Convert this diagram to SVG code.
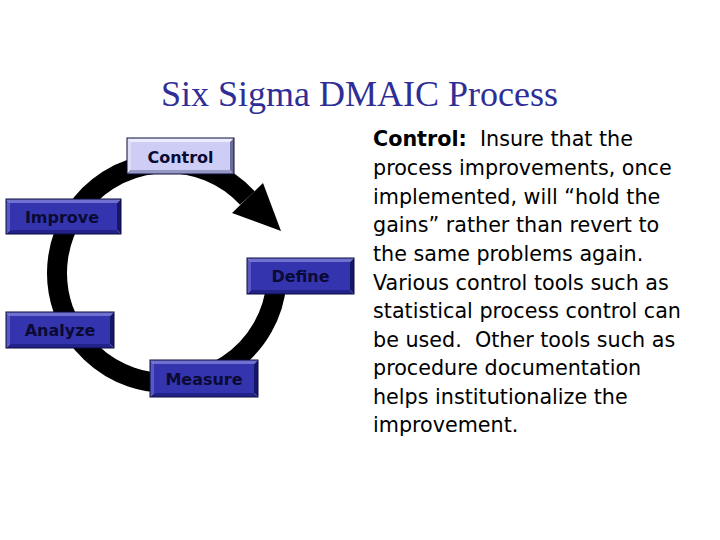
<svg xmlns="http://www.w3.org/2000/svg" width="720" height="540" viewBox="0 0 720 540">
<style>
.ring{fill:none;stroke:#000;stroke-width:20}
.head{fill:#000}
.edge{fill:none;stroke:#0a0a3a;stroke-width:1}
.d .face{fill:#3434ae}.d .bt{fill:#7070d2}.d .bl{fill:#5858c4}.d .bb{fill:#22228a}.d .br{fill:#16166a}
.l .face{fill:#cdcdf6}.l .bt{fill:#ececff}.l .bl{fill:#dedefb}.l .bb{fill:#9797c6}.l .br{fill:#6c6c9c}
.lbl{font-family:"DejaVu Sans",Verdana,sans-serif;font-weight:bold;font-size:16px;fill:#0a0a33;text-anchor:middle}
.title{font-family:"Liberation Serif","Times New Roman",serif;font-size:36px;fill:#2e2e96;text-anchor:middle}
.body{font-family:"DejaVu Sans",Verdana,sans-serif;font-size:20.7px;fill:#000;white-space:pre}
</style>
<text class="title" x="359.5" y="106">Six Sigma DMAIC Process</text>
<g id="connectors">
<path class="ring" d="M 276.6 282.6 A 110 110 0 1 1 247.4 198"/>
<polygon class="head" points="232,213 263,183 281,231"/>
</g>
<g id="control" class="l">
<polygon class="bt" points="127,138 234,138 230,142 131,142"/>
<polygon class="bl" points="127,138 131,142 131,170 127,174"/>
<polygon class="bb" points="127,174 131,170 230,170 234,174"/>
<polygon class="br" points="234,138 234,174 230,170 230,142"/>
<rect class="face" x="131" y="142" width="99" height="28"/>
<rect class="edge" x="127" y="138" width="107" height="36"/>
<text class="lbl" x="180.5" y="162.5">Control</text>
</g>
<g id="improve" class="d">
<polygon class="bt" points="6,199 121,199 117,203 10,203"/>
<polygon class="bl" points="6,199 10,203 10,230 6,234"/>
<polygon class="bb" points="6,234 10,230 117,230 121,234"/>
<polygon class="br" points="121,199 121,234 117,230 117,203"/>
<rect class="face" x="10" y="203" width="107" height="27"/>
<rect class="edge" x="6" y="199" width="115" height="35"/>
<text class="lbl" x="62" y="222.5">Improve</text>
</g>
<g id="define" class="d">
<polygon class="bt" points="247,258 354,258 350,262 251,262"/>
<polygon class="bl" points="247,258 251,262 251,290 247,294"/>
<polygon class="bb" points="247,294 251,290 350,290 354,294"/>
<polygon class="br" points="354,258 354,294 350,290 350,262"/>
<rect class="face" x="251" y="262" width="99" height="28"/>
<rect class="edge" x="247" y="258" width="107" height="36"/>
<text class="lbl" x="300.5" y="282">Define</text>
</g>
<g id="analyze" class="d">
<polygon class="bt" points="6,312 114,312 110,316 10,316"/>
<polygon class="bl" points="6,312 10,316 10,344 6,348"/>
<polygon class="bb" points="6,348 10,344 110,344 114,348"/>
<polygon class="br" points="114,312 114,348 110,344 110,316"/>
<rect class="face" x="10" y="316" width="100" height="28"/>
<rect class="edge" x="6" y="312" width="108" height="36"/>
<text class="lbl" x="60" y="336">Analyze</text>
</g>
<g id="measure" class="d">
<polygon class="bt" points="150,360 258,360 254,364 154,364"/>
<polygon class="bl" points="150,360 154,364 154,393 150,397"/>
<polygon class="bb" points="150,397 154,393 254,393 258,397"/>
<polygon class="br" points="258,360 258,397 254,393 254,364"/>
<rect class="face" x="154" y="364" width="100" height="29"/>
<rect class="edge" x="150" y="360" width="108" height="37"/>
<text class="lbl" x="204" y="384.5">Measure</text>
</g>
<g id="description">
<text class="body" x="373" y="146"><tspan font-weight="bold">Control:</tspan>  Insure that the</text>
<text class="body" x="373" y="175">process improvements, once</text>
<text class="body" x="373" y="203.5">implemented, will “hold the</text>
<text class="body" x="373" y="232">gains” rather than revert to</text>
<text class="body" x="373" y="261">the same problems again.</text>
<text class="body" x="373" y="289.5">Various control tools such as</text>
<text class="body" x="373" y="318">statistical process control can</text>
<text class="body" x="373" y="346.5">be used.  Other tools such as</text>
<text class="body" x="373" y="375">procedure documentation</text>
<text class="body" x="373" y="403.5">helps institutionalize the</text>
<text class="body" x="373" y="432">improvement.</text>
</g>
</svg>
